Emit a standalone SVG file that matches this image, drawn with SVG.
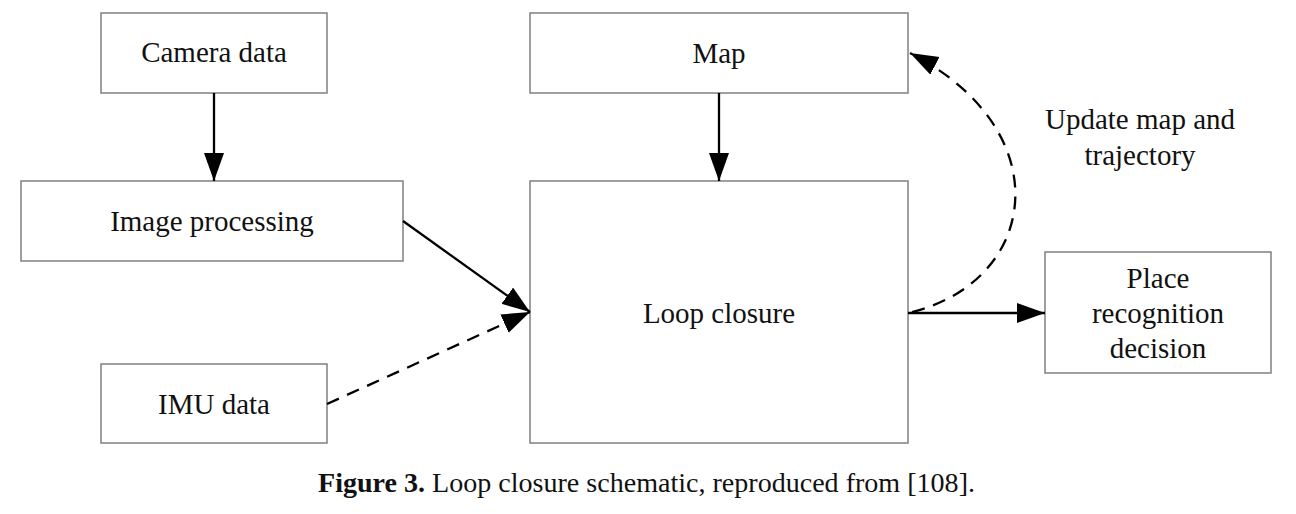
<svg xmlns="http://www.w3.org/2000/svg" width="1296" height="514" viewBox="0 0 1296 514">
<style>
.box{fill:#fff;stroke:#808080;stroke-width:1.5}
.t{font-family:"Liberation Serif","Times New Roman",serif;font-size:29px;fill:#111;text-anchor:middle;dominant-baseline:central}
.c{stroke:#000;stroke-width:2.3;fill:none}
.d{stroke-dasharray:13 9}
.cap{font-family:"Liberation Serif","Times New Roman",serif;font-size:27.5px;fill:#111}
</style>
<defs>
<marker id="ah" markerUnits="userSpaceOnUse" markerWidth="30" markerHeight="22" refX="28" refY="10" orient="auto">
<path d="M0,0 L28,10 L0,20 Z" fill="#000"/>
</marker>
</defs>
<rect width="1296" height="514" fill="#fff"/>
<g id="camera"><rect class="box" x="101" y="13" width="226" height="80"/><text class="t" x="214" y="52">Camera data</text></g>
<g id="imageproc"><rect class="box" x="21" y="181" width="382" height="80"/><text class="t" x="212" y="221">Image processing</text></g>
<g id="imu"><rect class="box" x="101" y="364" width="226" height="79"/><text class="t" x="214" y="404">IMU data</text></g>
<g id="map"><rect class="box" x="530" y="13" width="378" height="80"/><text class="t" x="719" y="53">Map</text></g>
<g id="loop"><rect class="box" x="530" y="181" width="378" height="262"/><text class="t" x="719" y="313">Loop closure</text></g>
<g id="place"><rect class="box" x="1045" y="252" width="226" height="121"/>
<text class="t" x="1158" y="278">Place</text><text class="t" x="1158" y="313">recognition</text><text class="t" x="1158" y="348">decision</text></g>
<g id="label"><text class="t" x="1140" y="119">Update map and</text><text class="t" x="1140" y="155">trajectory</text></g>
<g id="connectors">
<line class="c" x1="214" y1="93" x2="214" y2="181" marker-end="url(#ah)"/>
<line class="c" x1="719" y1="93" x2="719" y2="181" marker-end="url(#ah)"/>
<line class="c" x1="403" y1="221" x2="530" y2="312" marker-end="url(#ah)"/>
<line class="c d" x1="327" y1="404" x2="530" y2="312" marker-end="url(#ah)"/>
<line class="c" x1="908" y1="313" x2="1045" y2="313" marker-end="url(#ah)"/>
<path class="c d" d="M912 312 C1040 280, 1060 130, 910 53" marker-end="url(#ah)"/>
</g>
<text class="cap" x="318" y="492" textLength="657" lengthAdjust="spacingAndGlyphs"><tspan font-weight="bold">Figure 3.</tspan> Loop closure schematic, reproduced from [108].</text>
</svg>
